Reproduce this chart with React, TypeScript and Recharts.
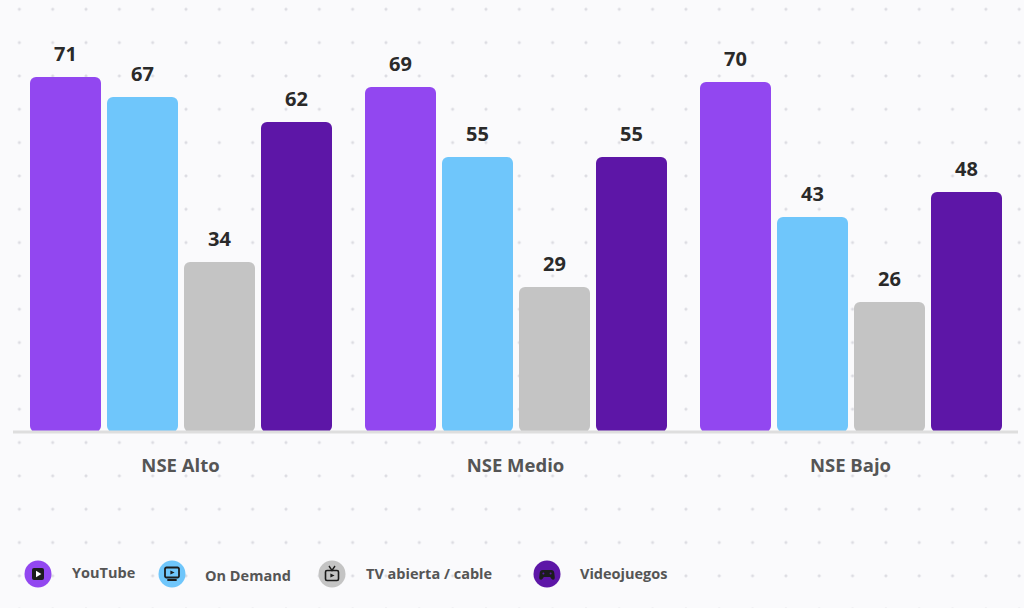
import { BarChart, Bar, XAxis, YAxis, LabelList } from "recharts";

const categories = ["NSE Alto", "NSE Medio", "NSE Bajo"];
const youtube = [71, 69, 70];
const onDemand = [67, 55, 43];
const tvCable = [34, 29, 26];
const videojuegos = [62, 55, 48];

const FONT = "'Open Sans', 'DejaVu Sans', sans-serif";

const series = [
  { key: "youtube", name: "YouTube", color: "#9247F0", icon: "yt" },
  { key: "onDemand", name: "On Demand", color: "#6FC6FB", icon: "od" },
  { key: "tvCable", name: "TV abierta / cable", color: "#C4C4C4", icon: "tv" },
  { key: "videojuegos", name: "Videojuegos", color: "#5D16A7", icon: "vg" },
];

const data = categories.map((c, i) => ({
  category: c,
  youtube: youtube[i],
  onDemand: onDemand[i],
  tvCable: tvCable[i],
  videojuegos: videojuegos[i],
}));

// legend placement (circle centre x, text x, text centre y)
const legendPos = [
  { cx: 38, tx: 72, ty: 573 },
  { cx: 172, tx: 205, ty: 576 },
  { cx: 332, tx: 366, ty: 574 },
  { cx: 547, tx: 580, ty: 574 },
];

function Icon({ kind }: { kind: string }) {
  const ink = "#1c1c1c";
  if (kind === "yt")
    return (
      <g>
        <rect x={-6} y={-6} width={12} height={12} rx={2} fill={ink} />
        <polygon points="-2,-3.3 3.4,0 -2,3.3" fill="#fff" />
      </g>
    );
  if (kind === "od")
    return (
      <g>
        <rect x={-7} y={-6.5} width={14} height={10} rx={1.5} fill="none" stroke={ink} strokeWidth={1.8} />
        <polygon points="-1.6,-3.6 2.6,-1.5 -1.6,0.6" fill={ink} />
        <line x1={-4} y1={6} x2={4} y2={6} stroke={ink} strokeWidth={1.8} strokeLinecap="round" />
      </g>
    );
  if (kind === "tv")
    return (
      <g>
        <rect x={-6.5} y={-3.5} width={13} height={10} rx={1.5} fill="none" stroke={ink} strokeWidth={1.6} />
        <polyline points="-3,-8 0,-3.5 3,-8" fill="none" stroke={ink} strokeWidth={1.4} />
        <polygon points="-1.6,-0.6 2.6,1.5 -1.6,3.6" fill={ink} />
      </g>
    );
  return (
    <g>
      <path
        d="M-4.5,-4 L4.5,-4 Q7,-4 7.3,-1 L7.8,3.5 Q8,6 5.8,5.8 Q4.6,5.6 3.2,3 L-3.2,3 Q-4.6,5.6 -5.8,5.8 Q-8,6 -7.8,3.5 L-7.3,-1 Q-7,-4 -4.5,-4 Z"
        fill={ink}
      />
      <circle cx={-3.6} cy={-0.6} r={1} fill="#5D16A7" />
      <circle cx={3.6} cy={-0.6} r={1} fill="#5D16A7" />
    </g>
  );
}

export default function App() {
  return (
    <div
      style={{
        position: "absolute",
        left: 0,
        top: 0,
        width: 1024,
        height: 608,
        backgroundColor: "#FAFAFC",
        backgroundImage: "radial-gradient(circle, #dcdce2 1.2px, transparent 1.8px)",
        backgroundSize: "33.33px 33.33px",
        backgroundPosition: "2.7px -7.4px",
        fontFamily: FONT,
        overflow: "hidden",
      }}
    >
      <BarChart
        width={1024}
        height={540}
        data={data}
        margin={{ top: 32, right: 6, left: 13, bottom: 0 }}
        barCategoryGap={17}
        barGap={6}
      >
        <XAxis
          dataKey="category"
          axisLine={{ stroke: "#DEDEDE", strokeWidth: 3 }}
          tickLine={false}
          tickMargin={21}
          height={108}
          tick={{ fontSize: 18.5, fontWeight: 700, fill: "#555555", fontFamily: FONT }}
        />
        <YAxis hide domain={[0, 80]} />
        {series.map((s) => (
          <Bar
            key={s.key}
            dataKey={s.key}
            name={s.name}
            fill={s.color}
            radius={6}
            isAnimationActive={false}
          >
            <LabelList
              dataKey={s.key}
              position="top"
              offset={16}
              style={{ fontSize: 20, fontWeight: 700, fill: "#2a2a2a", fontFamily: FONT }}
            />
          </Bar>
        ))}
      </BarChart>
      {series.map((s, i) => {
        const p = legendPos[i];
        return (
          <div key={s.key}>
            <svg
              width={28}
              height={28}
              viewBox="-14 -14 28 28"
              style={{ position: "absolute", left: p.cx - 14, top: 574 - 14 }}
            >
              <circle r={13.5} fill={s.color} />
              <Icon kind={s.icon} />
            </svg>
            <span
              style={{
                position: "absolute",
                left: p.tx,
                top: p.ty - 10,
                lineHeight: "20px",
                fontSize: 14.5,
                fontWeight: 700,
                color: "#555555",
                whiteSpace: "nowrap",
              }}
            >
              {s.name}
            </span>
          </div>
        );
      })}
    </div>
  );
}
